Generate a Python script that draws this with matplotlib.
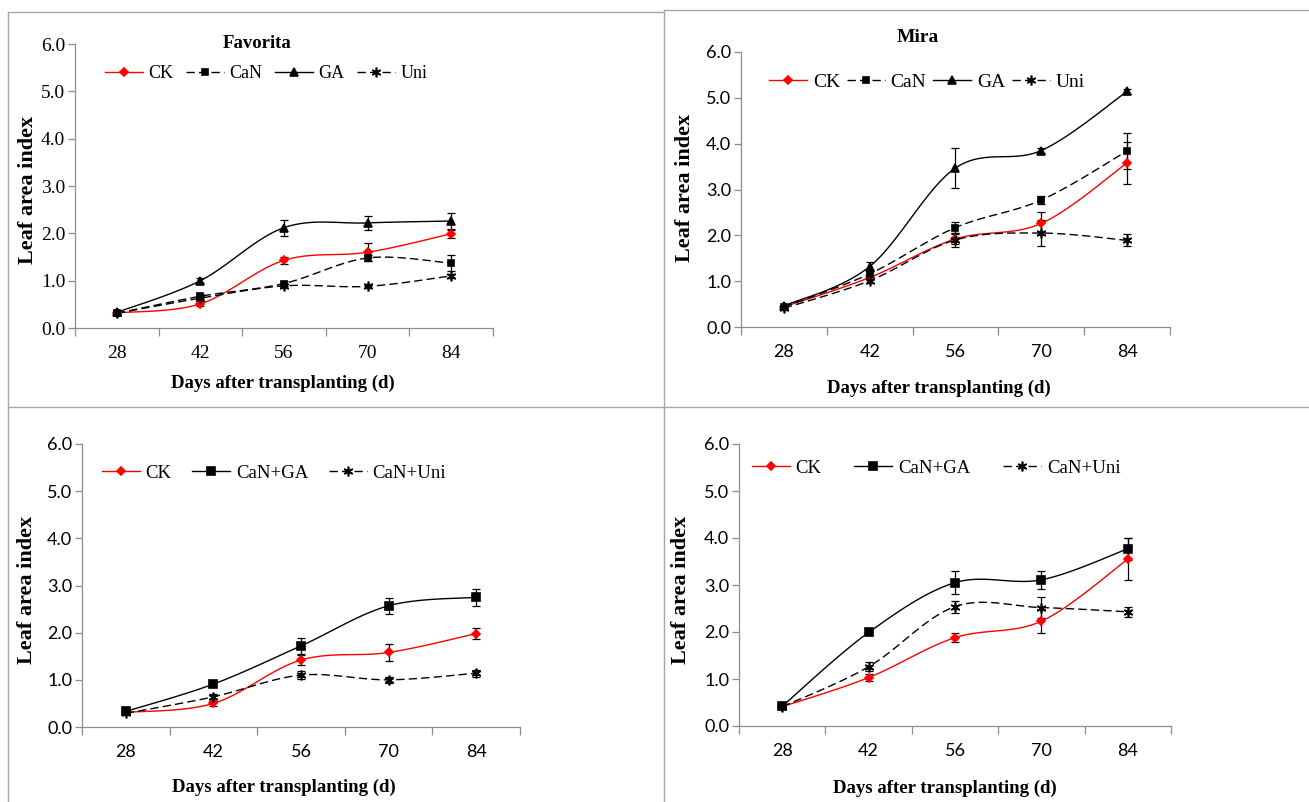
import numpy as np
import matplotlib.pyplot as plt
from matplotlib.lines import Line2D

W, H = 1309, 802
days = ["28", "42", "56", "70", "84"]

# Favorita - single treatments (mean, sd)
fav_ck = [0.32, 0.51, 1.43, 1.60, 1.99]
fav_ck_err = [0.03, 0.05, 0.07, 0.19, 0.08]
fav_can = [0.31, 0.67, 0.94, 1.48, 1.37]
fav_can_err = [0.03, 0.04, 0.05, 0.07, 0.17]
fav_ga = [0.33, 1.00, 2.12, 2.22, 2.26]
fav_ga_err = [0.03, 0.05, 0.17, 0.14, 0.17]
fav_uni = [0.31, 0.63, 0.89, 0.88, 1.10]
fav_uni_err = [0.03, 0.04, 0.04, 0.04, 0.05]

# Mira - single treatments
mira_ck = [0.44, 1.08, 1.92, 2.26, 3.58]
mira_ck_err = [0.03, 0.05, 0.10, 0.24, 0.45]
mira_can = [0.44, 1.16, 2.17, 2.77, 3.84]
mira_can_err = [0.03, 0.06, 0.12, 0.08, 0.40]
mira_ga = [0.46, 1.32, 3.47, 3.85, 5.14]
mira_ga_err = [0.03, 0.10, 0.43, 0.06, 0.06]
mira_uni = [0.41, 1.01, 1.90, 2.05, 1.89]
mira_uni_err = [0.03, 0.05, 0.15, 0.28, 0.13]

# Favorita - combined treatments
fav2_ck = [0.31, 0.50, 1.42, 1.58, 1.98]
fav2_ck_err = [0.03, 0.05, 0.10, 0.19, 0.12]
fav2_ga = [0.33, 0.91, 1.72, 2.57, 2.75]
fav2_ga_err = [0.03, 0.05, 0.17, 0.17, 0.18]
fav2_uni = [0.29, 0.64, 1.10, 1.00, 1.14]
fav2_uni_err = [0.03, 0.05, 0.08, 0.07, 0.07]

# Mira - combined treatments
mira2_ck = [0.41, 1.03, 1.88, 2.23, 3.55]
mira2_ck_err = [0.03, 0.07, 0.10, 0.26, 0.45]
mira2_ga = [0.42, 1.99, 3.05, 3.11, 3.77]
mira2_ga_err = [0.03, 0.05, 0.25, 0.19, 0.24]
mira2_uni = [0.41, 1.26, 2.54, 2.52, 2.43]
mira2_uni_err = [0.03, 0.10, 0.13, 0.23, 0.11]

SERIF = "Liberation Serif"
SANS = ["Lato", "DejaVu Sans"]
AXIS_GREY = "#8c8c8c"
DASH = (0, (6, 3))

STYLE = {
    "CK": dict(color="red", ls="-", marker="D", ms=4.5),
    "CaN": dict(color="black", ls=DASH, marker="s", ms=5),
    "GA": dict(color="black", ls="-", marker="^", ms=5.5),
    "Uni": dict(color="black", ls=DASH, marker=(6, 2, 0), ms=7),
    "CaN+GA": dict(color="black", ls="-", marker="s", ms=5.5),
    "CaN+Uni": dict(color="black", ls=DASH, marker=(6, 2, 0), ms=7),
}


def smooth(x, y, n=25):
    # Excel-like smoothed line (Catmull-Rom as cubic Bezier)
    pts = np.column_stack([x, y]).astype(float)
    ext = np.vstack([pts[0], pts, pts[-1]])
    t = np.linspace(0, 1, n)[:, None]
    out = []
    for i in range(len(pts) - 1):
        p0, p3 = pts[i], pts[i + 1]
        p1 = p0 + (ext[i + 2] - ext[i]) / 6
        p2 = p3 - (ext[i + 3] - ext[i + 1]) / 6
        seg = ((1 - t) ** 3) * p0 + 3 * ((1 - t) ** 2) * t * p1 + 3 * (1 - t) * t ** 2 * p2 + t ** 3 * p3
        out.append(seg if i == 0 else seg[1:])
    out = np.vstack(out)
    return out[:, 0], out[:, 1]


def axes_at(fig, l, t, r, b):
    return fig.add_axes([l / W, 1 - b / H, (r - l) / W, (b - t) / H])


def draw_panel(fig, box, series, tick_font, tick_size, ylab_xy, xlab_xy, leg):
    ax = axes_at(fig, *box)
    x = np.arange(len(days))
    for name, y, err in series:
        st = STYLE[name]
        xs, ys = smooth(x, y)
        ax.plot(xs, ys, color=st["color"], ls=st["ls"], lw=1.0, zorder=2)
        ax.errorbar(x, y, yerr=err, fmt="none", ecolor="black", elinewidth=0.9,
                    capsize=3, capthick=0.9, zorder=3)
        ax.plot(x, y, ls="none", marker=st["marker"], ms=st["ms"], color=st["color"],
                mec=st["color"], mew=1.2, zorder=4)

    ax.set_xlim(-0.5, len(days) - 0.5)
    ax.set_ylim(0, 6)
    ax.set_yticks(np.arange(0, 6.1, 1.0))
    ax.set_yticklabels([f"{v:.1f}" for v in np.arange(0, 6.1, 1.0)])
    ax.set_xticks(np.arange(-0.5, len(days), 1.0))
    ax.set_xticklabels([])
    ax.set_xticks(x, minor=True)
    ax.set_xticklabels(days, minor=True)
    ax.tick_params(axis="x", which="major", direction="out", length=6, color=AXIS_GREY, width=0.9)
    ax.tick_params(axis="x", which="minor", length=0, pad=12)
    ax.tick_params(axis="y", direction="out", length=5, color=AXIS_GREY, width=0.9, pad=2)
    for lab in ax.get_yticklabels() + ax.get_xticklabels(minor=True):
        lab.set_family(tick_font)
        lab.set_fontsize(tick_size)
    for s in ("top", "right"):
        ax.spines[s].set_visible(False)
    for s in ("left", "bottom"):
        ax.spines[s].set_color(AXIS_GREY)
        ax.spines[s].set_linewidth(0.9)

    fig.text(ylab_xy[0] / W, 1 - ylab_xy[1] / H, "Leaf area index", rotation=90,
             ha="center", va="center", family=SERIF, weight="bold", fontsize=16)
    fig.text(xlab_xy[0] / W, 1 - xlab_xy[1] / H, "Days after transplanting (d)",
             ha="center", va="center", family=SERIF, weight="bold", fontsize=13.5)

    lx, ly, fs, colsp = leg
    handles = []
    for name, _, _ in series:
        st = STYLE[name]
        handles.append(Line2D([], [], color=st["color"], ls=st["ls"], lw=1.0,
                              marker=st["marker"], ms=st["ms"], mec=st["color"], mew=1.2,
                              label=name))
    ax.legend(handles=handles, loc="center left", bbox_to_anchor=(lx / W, 1 - ly / H),
              bbox_transform=fig.transFigure, ncol=len(handles), frameon=False,
              borderpad=0, borderaxespad=0, handlelength=38 / (fs * 100 / 72),
              handletextpad=0.3, columnspacing=colsp,
              prop={"family": SERIF, "size": fs})
    return ax


fig = plt.figure(figsize=(W / 100, H / 100), dpi=100)

draw_panel(fig, (75, 44, 493, 328),
           [("CK", fav_ck, fav_ck_err), ("CaN", fav_can, fav_can_err),
            ("GA", fav_ga, fav_ga_err), ("Uni", fav_uni, fav_uni_err)],
           SERIF, 14, (28, 190), (283, 383), (105, 74, 13, 0.7))
fig.text(257 / W, 1 - 43 / H, "Favorita", ha="center", va="center",
         family=SERIF, weight="bold", fontsize=13.5)

draw_panel(fig, (741, 52, 1170, 327),
           [("CK", mira_ck, mira_ck_err), ("CaN", mira_can, mira_can_err),
            ("GA", mira_ga, mira_ga_err), ("Uni", mira_uni, mira_uni_err)],
           SANS, 13, (685, 188), (939, 388), (769, 82, 14, 0.35))
fig.text(918 / W, 1 - 37 / H, "Mira", ha="center", va="center",
         family=SERIF, weight="bold", fontsize=14)

draw_panel(fig, (82, 444, 520, 727),
           [("CK", fav2_ck, fav2_ck_err), ("CaN+GA", fav2_ga, fav2_ga_err),
            ("CaN+Uni", fav2_uni, fav2_uni_err)],
           SANS, 13, (27, 590), (284, 787), (102, 473, 13.5, 1.1))

draw_panel(fig, (739, 444, 1171, 726),
           [("CK", mira2_ck, mira2_ck_err), ("CaN+GA", mira2_ga, mira2_ga_err),
            ("CaN+Uni", mira2_uni, mira2_uni_err)],
           SANS, 13, (681, 590), (945, 788), (752, 468, 13.5, 1.75))

# panel borders
border = dict(color="#a6a6a6", lw=1.0, transform=fig.transFigure)
fig.add_artist(Line2D([8 / W, 8 / W], [0, 1 - 12 / H], **border))
fig.add_artist(Line2D([664 / W, 664 / W], [0, 1 - 10 / H], **border))
fig.add_artist(Line2D([8 / W, 664 / W], [1 - 12 / H, 1 - 12 / H], **border))
fig.add_artist(Line2D([664 / W, 1], [1 - 10 / H, 1 - 10 / H], **border))
fig.add_artist(Line2D([8 / W, 1], [1 - 407 / H, 1 - 407 / H], **border))

fig.savefig("out.png", dpi=100)
